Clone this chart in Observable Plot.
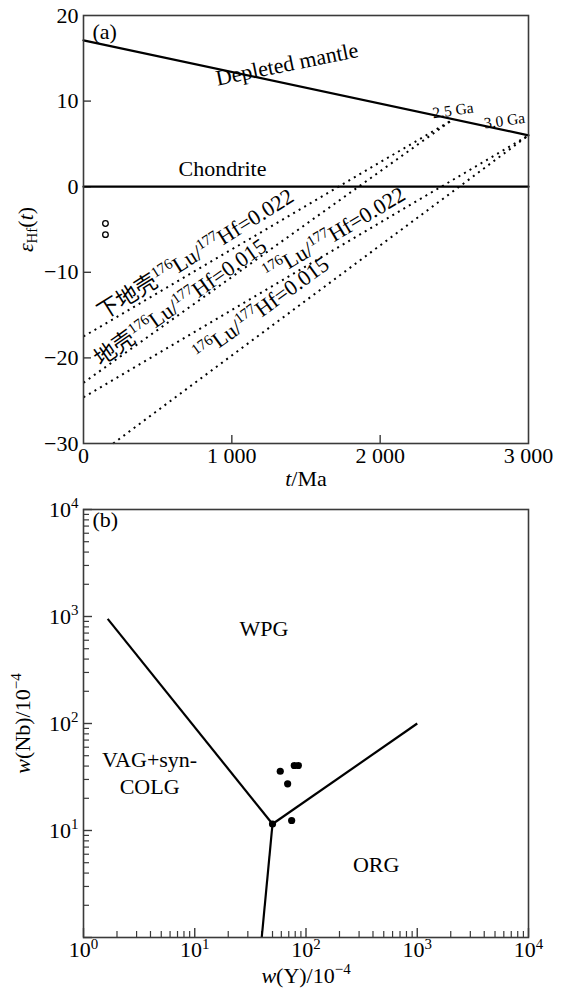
<!DOCTYPE html>
<html><head><meta charset="utf-8">
<script src="https://cdn.jsdelivr.net/npm/d3@7"></script>
<script src="https://cdn.jsdelivr.net/npm/@observablehq/plot@0.6"></script>
<style>
body{margin:0;background:#fff;}
#chart svg{display:block;}
</style></head><body><div id="chart"></div>
<script>
// ---------- Panel (a): epsilon Hf(t) vs t ----------
const dmAge = [0, 3000];
const dmEps = [17.1, 6.0];
const chondriteAge = [0, 3000];
const chondriteEps = [0, 0];
const crustAge0 = [0, 0, 0, 200];
const crustEps0 = [-17.5, -22.9, -24.6, -30];
const crustAge1 = [2486, 2486, 3000, 3000];
const crustEps1 = [7.8, 7.8, 6.0, 6.0];
const sampleAgeA = [148, 148];
const sampleEpsA = [-4.3, -5.6];
const xTicksA = [0, 1000, 2000, 3000];
const xTickLabelsA = ["0", "1 000", "2 000", "3 000"];
const yTicksA = [20, 10, 0, -10, -20, -30];
const yTickLabelsA = ["20", "10", "0", "\u221210", "\u221220", "\u221230"];
const annTextA = ["Depleted mantle", "Chondrite", "2.5 Ga", "3.0 Ga",
  "下地壳^{176}Lu/^{177}Hf=0.022", "地壳^{176}Lu/^{177}Hf=0.015",
  "^{176}Lu/^{177}Hf=0.022", "^{176}Lu/^{177}Hf=0.015"];
const annXA = [1372, 937, 2491, 2838, 755, 654, 1692, 1200];
const annYA = [14.3, 2.1, 8.9, 7.7, -7.9, -13.5, -5.5, -14.3];
const annRotA = [-11.5, 0, -8, -8, -32, -35, -31, -36];
const annSizeA = [22, 22, 15.5, 15.5, 22, 22, 22, 22];

// ---------- Panel (b): Nb vs Y ----------
const segY0 = [1.65, 50, 50];
const segNb0 = [950, 11.5, 11.5];
const segY1 = [50, 1000, 40];
const segNb1 = [11.5, 100, 1];
const sampleY = [50, 58.7, 68.4, 74.3, 78.5, 85.3];
const sampleNb = [11.5, 35.8, 27.3, 12.4, 40.5, 40.5];
const majorTicksB = [1, 10, 100, 1000, 10000];
const majorLabelsB = ["10^{0}", "10^{1}", "10^{2}", "10^{3}", "10^{4}"];
const yLabeledTicksB = [10, 100, 1000, 10000];
const fieldText = ["WPG", "VAG+syn-\nCOLG", "ORG"];
const fieldY = [41.8, 3.93, 427];
const fieldNb = [789, 35.6, 4.92];

const font = "'Liberation Serif', 'Times New Roman', 'Noto Sans CJK SC', serif";
const frameColor = "#3a3a3a";

const minorTicksB = [];
for (const m of majorTicksB.slice(0, -1)) for (let k = 2; k <= 9; k++) minorTicksB.push(m * k);

const idxA = d3.range(annTextA.length);
const idxCrust = d3.range(crustAge0.length);
const labelB = d => majorLabelsB[majorTicksB.indexOf(d)];

const plotA = Plot.plot({
  width: 561, height: 495,
  marginTop: 15, marginBottom: 52, marginLeft: 83, marginRight: 33,
  x: {domain: [0, 3000]},
  y: {domain: [-30, 20]},
  style: {fontFamily: font, fontSize: "22px", color: "#000", background: "#fff", overflow: "visible"},
  marks: [
    Plot.axisY([-20, -10, 0, 10], {tickSize: 8, dx: 8, fill: "none", stroke: frameColor, strokeWidth: 1.4, label: null}),
    Plot.axisX([1000, 2000], {tickSize: 8, dy: -8, fill: "none", stroke: frameColor, strokeWidth: 1.4, label: null}),
    Plot.axisY(yTicksA, {tickSize: 0, tickPadding: 5, tickFormat: d => yTickLabelsA[yTicksA.indexOf(d)], label: null, fontSize: 22, fontFamily: font}),
    Plot.axisX(xTicksA, {tickSize: 0, tickPadding: 4, tickFormat: d => xTickLabelsA[xTicksA.indexOf(d)], label: null, fontSize: 22, fontFamily: font}),
    Plot.link(idxCrust, {x1: i => crustAge0[i], y1: i => crustEps0[i], x2: i => crustAge1[i], y2: i => crustEps1[i],
      stroke: "#000", strokeWidth: 2, strokeDasharray: "2,4.4"}),
    Plot.line(d3.range(2), {x: i => dmAge[i], y: i => dmEps[i], stroke: "#000", strokeWidth: 2.2}),
    Plot.line(d3.range(2), {x: i => chondriteAge[i], y: i => chondriteEps[i], stroke: "#000", strokeWidth: 2.2}),
    Plot.dot(d3.range(2), {x: i => sampleAgeA[i], y: i => sampleEpsA[i], r: 2.8, stroke: "#000", fill: "#fff", strokeWidth: 1.3}),
    ...idxA.map(i => Plot.text([annTextA[i]], {x: () => annXA[i], y: () => annYA[i], text: d => d, rotate: annRotA[i],
      fontSize: annSizeA[i], fontFamily: font, textAnchor: "middle", lineAnchor: "middle"})),
    Plot.text(["(a)"], {text: d => d, frameAnchor: "top-left", dx: 9, dy: 8, textAnchor: "start", lineAnchor: "top", fontSize: 22, fontFamily: font}),
    Plot.text(["*ε*_{Hf}(*t*)"], {text: d => d, frameAnchor: "left", dx: -58, rotate: -90, textAnchor: "middle", lineAnchor: "middle", fontSize: 22, fontFamily: font}),
    Plot.text(["*t*/Ma"], {text: d => d, frameAnchor: "bottom", dy: 35, textAnchor: "middle", lineAnchor: "middle", fontSize: 22, fontFamily: font}),
    Plot.frame({stroke: frameColor, strokeWidth: 1.6})
  ]
});

const plotB = Plot.plot({
  width: 561, height: 500,
  marginTop: 14, marginBottom: 58, marginLeft: 83, marginRight: 33,
  x: {type: "log", domain: [1, 10000]},
  y: {type: "log", domain: [1, 10000]},
  style: {fontFamily: font, fontSize: "22px", color: "#000", background: "#fff", overflow: "visible"},
  marks: [
    Plot.axisY(majorTicksB, {tickSize: 9, dx: 9, fill: "none", stroke: frameColor, strokeWidth: 1.4, label: null}),
    Plot.axisY(minorTicksB, {tickSize: 6, dx: 6, fill: "none", stroke: frameColor, strokeWidth: 1.2, label: null}),
    Plot.axisX(majorTicksB, {tickSize: 9, dy: -9, fill: "none", stroke: frameColor, strokeWidth: 1.4, label: null}),
    Plot.axisX(minorTicksB, {tickSize: 6, dy: -6, fill: "none", stroke: frameColor, strokeWidth: 1.2, label: null}),
    Plot.axisY(yLabeledTicksB, {tickSize: 0, tickPadding: 5, tickFormat: labelB, label: null, fontSize: 22, fontFamily: font}),
    Plot.axisX(majorTicksB, {tickSize: 0, tickPadding: 4, tickFormat: labelB, label: null, fontSize: 22, fontFamily: font}),
    Plot.link(d3.range(segY0.length), {x1: i => segY0[i], y1: i => segNb0[i], x2: i => segY1[i], y2: i => segNb1[i],
      stroke: "#000", strokeWidth: 2.2}),
    Plot.dot(d3.range(sampleY.length), {x: i => sampleY[i], y: i => sampleNb[i], r: 3.6, fill: "#000"}),
    Plot.text(d3.range(fieldText.length), {x: i => fieldY[i], y: i => fieldNb[i], text: i => fieldText[i],
      fontSize: 22, fontFamily: font, textAnchor: "middle", lineAnchor: "middle", lineHeight: 1.25}),
    Plot.text(["(b)"], {text: d => d, frameAnchor: "top-left", dx: 9, dy: 2, textAnchor: "start", lineAnchor: "top", fontSize: 22, fontFamily: font}),
    Plot.text(["*w*(Nb)/10^{\u22124}"], {text: d => d, frameAnchor: "left", dx: -61, rotate: -90, textAnchor: "middle", lineAnchor: "middle", fontSize: 22, fontFamily: font}),
    Plot.text(["*w*(Y)/10^{\u22124}"], {text: d => d, frameAnchor: "bottom", dy: 38, textAnchor: "middle", lineAnchor: "middle", fontSize: 22, fontFamily: font}),
    Plot.frame({stroke: frameColor, strokeWidth: 1.6})
  ]
});

const container = document.getElementById("chart");
container.append(plotA, plotB);

// Convert ^{..} superscript, _{..} subscript and *..* italic markup into tspans (real text)
function richText(root) {
  root.querySelectorAll("text").forEach(t => {
    const els = t.querySelector("tspan") ? Array.from(t.querySelectorAll("tspan")) : [t];
    for (const el of els) {
      const s = el.textContent;
      if (!/[\^_*]/.test(s)) continue;
      const F = parseFloat(getComputedStyle(el).fontSize) || 22;
      const segs = [];
      let italic = false, i = 0, buf = "";
      const push = (text, mode) => { if (text) segs.push({text, mode, italic}); };
      while (i < s.length) {
        const c = s[i];
        if ((c === "^" || c === "_") && s[i + 1] === "{") {
          push(buf, "n"); buf = "";
          const j = s.indexOf("}", i + 2);
          push(s.slice(i + 2, j), c === "^" ? "sup" : "sub");
          i = j + 1;
        } else if (c === "*") {
          push(buf, "n"); buf = ""; italic = !italic; i++;
        } else { buf += c; i++; }
      }
      push(buf, "n");
      el.textContent = "";
      let shift = 0;
      for (const sg of segs) {
        const ts = document.createElementNS("http://www.w3.org/2000/svg", "tspan");
        const target = sg.mode === "sup" ? -0.38 * F : sg.mode === "sub" ? 0.22 * F : 0;
        if (target !== shift) ts.setAttribute("dy", (target - shift).toFixed(2));
        shift = target;
        if (sg.mode !== "n") ts.setAttribute("font-size", (0.68 * F).toFixed(2));
        if (sg.italic) ts.setAttribute("font-style", "italic");
        ts.textContent = sg.text;
        el.appendChild(ts);
      }
    }
  });
}
richText(container);
</script></body></html>
